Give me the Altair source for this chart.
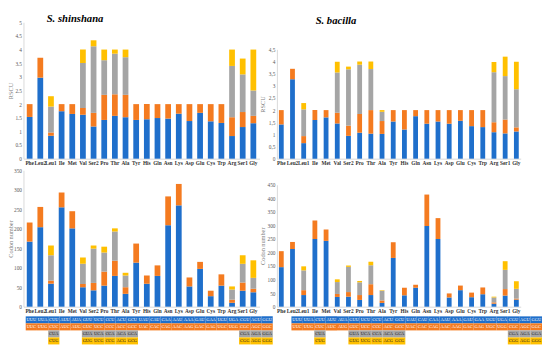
import altair as alt
import pandas as pd

cats = ["Phe", "Leu2", "Leu1", "Ile", "Met", "Val", "Ser2", "Pro", "Thr", "Ala", "Tyr",
        "His", "Gln", "Asn", "Lys", "Asp", "Glu", "Cys", "Trp", "Arg", "Ser1", "Gly"]

# RSCU, S. shinshana (codon 1..4 segments)
rs_s_1 = [1.53, 2.97, 0.84, 1.74, 1.64, 1.61, 1.18, 1.42, 1.57, 1.52, 1.42, 1.45, 1.49, 1.47, 1.65, 1.38, 1.68, 1.37, 1.31, 0.83, 1.16, 1.30]
rs_s_2 = [0.47, 0.73, 0.12, 0.26, 0.36, 0.25, 0.50, 0.92, 0.79, 0.82, 0.58, 0.55, 0.51, 0.53, 0.35, 0.62, 0.32, 0.63, 0.69, 0.69, 0.55, 0.27]
rs_s_3 = [0, 0, 0.95, 0, 0, 1.65, 2.44, 1.27, 1.49, 1.38, 0, 0, 0, 0, 0, 0, 0, 0, 0, 1.88, 1.38, 0.93]
rs_s_4 = [0, 0, 0.38, 0, 0, 0.49, 0.22, 0.39, 0.15, 0.28, 0, 0, 0, 0, 0, 0, 0, 0, 0, 0.60, 0.58, 1.50]

# RSCU, S. bacilla
rs_b_1 = [1.41, 3.27, 0.64, 1.59, 1.70, 1.45, 0.94, 1.07, 1.03, 1.02, 1.53, 1.20, 1.75, 1.44, 1.53, 1.44, 1.56, 1.34, 1.30, 1.09, 1.04, 1.12]
rs_b_2 = [0.59, 0.43, 0.29, 0.41, 0.30, 0.44, 0.42, 0.77, 0.97, 0.53, 0.47, 0.80, 0.25, 0.56, 0.47, 0.56, 0.44, 0.66, 0.70, 0.41, 0.57, 0.17]
rs_b_3 = [0, 0, 1.10, 0, 0, 1.66, 2.32, 2.03, 1.69, 0.38, 0, 0, 0, 0, 0, 0, 0, 0, 0, 2.06, 1.79, 1.57]
rs_b_4 = [0, 0, 0.26, 0, 0, 0.44, 0.11, 0.13, 0.31, 0.07, 0, 0, 0, 0, 0, 0, 0, 0, 0, 0.42, 0.80, 1.13]

# Codon numbers, S. shinshana
cn_s_1 = [167, 204, 59, 255, 201, 50, 42, 54, 79, 33, 113, 59, 79, 209, 260, 52, 97, 27, 54, 10, 41, 37]
cn_s_2 = [49, 52, 8, 38, 44, 8, 19, 36, 39, 17, 49, 21, 27, 74, 55, 23, 18, 14, 29, 8, 21, 9]
cn_s_3 = [0, 0, 65, 0, 0, 52, 88, 49, 75, 30, 0, 0, 0, 0, 0, 0, 0, 0, 0, 26, 48, 28]
cn_s_4 = [0, 0, 25, 0, 0, 16, 8, 15, 8, 7, 0, 0, 0, 0, 0, 0, 0, 0, 0, 8, 22, 45]

# Codon numbers, S. bacilla
cn_b_1 = [146, 213, 43, 250, 243, 36, 37, 25, 43, 14, 180, 42, 70, 298, 250, 34, 61, 35, 46, 11, 41, 26]
cn_b_2 = [59, 26, 18, 68, 42, 11, 17, 18, 40, 9, 58, 28, 11, 116, 77, 15, 17, 17, 25, 5, 24, 4]
cn_b_3 = [0, 0, 73, 0, 0, 44, 93, 47, 70, 36, 0, 0, 0, 0, 0, 0, 0, 0, 0, 18, 71, 36]
cn_b_4 = [0, 0, 15, 0, 0, 10, 5, 5, 13, 2, 0, 0, 0, 0, 0, 0, 0, 0, 0, 3, 32, 28]

codon1 = ["UUU", "UUA", "CUU", "AUU", "AUA", "GUU", "UCU", "CCU", "ACU", "GCU", "UAU", "CAU", "CAA", "AAU", "AAA", "GAU", "GAA", "UGU", "UGA", "CGU", "AGU", "GGU"]
codon2 = ["UUC", "UUG", "CUC", "AUC", "AUG", "GUC", "UCC", "CCC", "ACC", "GCC", "UAC", "CAC", "CAG", "AAC", "AAG", "GAC", "GAG", "UGC", "UGG", "CGC", "AGC", "GGC"]
codon3 = ["", "", "CUA", "", "", "GUA", "UCA", "CCA", "ACA", "GCA", "", "", "", "", "", "", "", "", "", "CGA", "AGA", "GGA"]
codon4 = ["", "", "CUG", "", "", "GUG", "UCG", "CCG", "ACG", "GCG", "", "", "", "", "", "", "", "", "", "CGG", "AGG", "GGG"]

colors = ["#1F6FCB", "#F47B20", "#A5A5A5", "#FFC000"]
SERIF = "Liberation Serif"


def long_df(arrs):
    rows = []
    for k, arr in enumerate(arrs):
        for c, v in zip(cats, arr):
            if v > 0:
                rows.append({"aa": c, "pos": k + 1, "val": v})
    return pd.DataFrame(rows)


def bar_panel(df, ymax, ystep, axis_title, width, height, top, pi, po, extent, tpad, comma=False, title=None):
    n = int(round(ymax / ystep))
    vals = [round(i * ystep, 2) for i in range(n + 1)]
    lab = "replace(format(datum.value, '~g'), '.', ',')" if comma else "format(datum.value, '~g')"
    x = alt.X("aa:N", sort=cats, title=None,
              scale=alt.Scale(paddingInner=pi, paddingOuter=po),
              axis=alt.Axis(labelAngle=0, labelFontSize=5.5, labelFont=SERIF, labelColor="#333333",
                            labelFontWeight="bold", labelPadding=2, ticks=False, domainColor="#d9d9d9",
                            labelOverlap=False))
    y = alt.Y("val:Q", stack="zero", title=axis_title,
              scale=alt.Scale(domain=[0, ymax], nice=False, range=[height, top]),
              axis=alt.Axis(values=vals, labelExpr=lab, grid=False, ticks=False, domainColor="#d9d9d9",
                            labelFontSize=5.5, labelFont=SERIF, labelColor="#595959", labelPadding=2,
                            titleFont=SERIF, titleFontSize=6.5, titleFontWeight="normal",
                            titleColor="#808080", titlePadding=tpad, minExtent=extent, maxExtent=extent))
    ch = alt.Chart(df).mark_bar().encode(
        x=x, y=y,
        color=alt.Color("pos:O", scale=alt.Scale(domain=[1, 2, 3, 4], range=colors), legend=None),
        order=alt.Order("pos:Q", sort="ascending"),
    )
    props = dict(width=width, height=height)
    if title is not None:
        props["title"] = title
    return ch.properties(**props)


def table_panel(width, po, align):
    rows = []
    for r, arr in enumerate([codon1, codon2, codon3, codon4]):
        for c, cod in zip(cats, arr):
            if cod:
                rows.append({"aa": c, "pos": r + 1, "codon": cod})
    tdf = pd.DataFrame(rows)
    base = alt.Chart(tdf).encode(
        x=alt.X("aa:N", sort=cats, axis=None,
                scale=alt.Scale(paddingInner=0, paddingOuter=po, align=align)),
        y=alt.Y("pos:O", axis=None, scale=alt.Scale(paddingInner=0, paddingOuter=0)),
    )
    rect = base.mark_rect().encode(
        color=alt.Color("pos:O", scale=alt.Scale(domain=[1, 2, 3, 4], range=colors), legend=None))
    txt = base.mark_text(fontSize=4.6, font=SERIF).encode(
        text="codon:N",
        color=alt.condition("datum.pos <= 2", alt.value("#ffffff"), alt.value("#222222")))
    return alt.layer(rect, txt).properties(width=width, height=29)


title_s = alt.TitleParams("S. shinshana", font=SERIF, fontSize=11, fontStyle="italic", fontWeight="bold",
                          anchor="start", frame="group", dx=24, offset=-4, color="#000000")
title_b = alt.TitleParams("S. bacilla", font=SERIF, fontSize=11, fontStyle="italic", fontWeight="bold",
                          anchor="start", frame="group", dx=40, offset=-4, color="#000000")

tl = bar_panel(long_df([rs_s_1, rs_s_2, rs_s_3, rs_s_4]), 5, 0.5, "RSCU", 244, 141, 0, 0.46, 0.31, 9, 1, title=title_s)
tr = bar_panel(long_df([rs_b_1, rs_b_2, rs_b_3, rs_b_4]), 4.5, 0.5, "RSCU", 252, 141, 28, 0.57, 0.175, 10, 2, comma=True, title=title_b)
bl = bar_panel(long_df([cn_s_1, cn_s_2, cn_s_3, cn_s_4]), 350, 50, "Codon number", 244, 141, 0, 0.46, 0.31, 9, 1)
br = bar_panel(long_df([cn_b_1, cn_b_2, cn_b_3, cn_b_4]), 450, 50, "Codon number", 252, 141, 15, 0.57, 0.175, 10, 2)

tab_l = table_panel(260, 0.2, 0.5)
tab_r = table_panel(276, 0.722, 1)

row1 = alt.hconcat(tl, tr, spacing=0).resolve_scale(x="independent", y="independent")
row2 = alt.hconcat(bl, br, spacing=0).resolve_scale(x="independent", y="independent")
row3 = alt.hconcat(tab_l, tab_r, spacing=0).resolve_scale(x="independent", y="independent")

chart = alt.vconcat(row1, row2, row3, spacing=2).resolve_scale(x="independent", y="independent").properties(
    padding=0, background="white"
).configure_view(stroke=None)

chart.save("out.html", embed_options={"renderer": "svg", "actions": False})
